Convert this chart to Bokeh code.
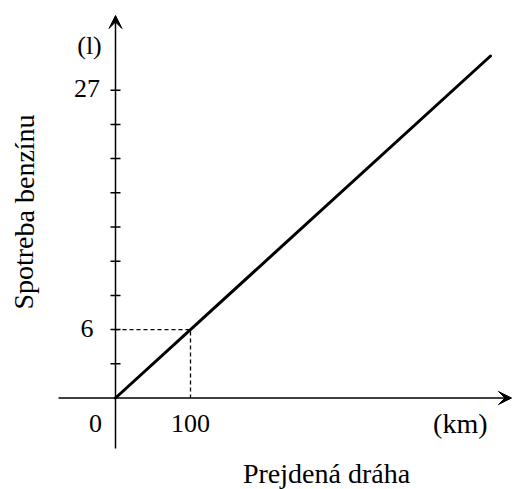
from bokeh.plotting import figure
from bokeh.models import Range1d, Arrow, VeeHead, Label
from bokeh.core.properties import value
from bokeh.embed import file_html
from bokeh.resources import INLINE

# ---- data ----
distance_km = [0, 500]
fuel_l = [0, 30]
ref_km = 100
ref_l = 6
y_ticks = [3, 6, 9, 12, 15, 18, 21, 24, 27]
y_label_vals = [6, 27]
y_label_text = ["6", "27"]
x_label_vals = [100]
x_label_text = ["100"]

FONT_NAME = "Liberation Serif"
FONT = value(FONT_NAME)
W, H = 520, 489
PX_X = 0.75   # px per km
PX_Y = 11.4   # px per litre
OX, OY = 115, 397.5  # origin in canvas px (from top-left)
SHIFT = 10    # baseline correction for svg text

p = figure(width=W, height=H, output_backend="svg", toolbar_location=None,
           x_axis_location=None, y_axis_location=None, min_border=0,
           x_range=Range1d(-OX / PX_X, (W - OX) / PX_X),
           y_range=Range1d(-(H - OY) / PX_Y, OY / PX_Y))
p.outline_line_color = None
p.grid.visible = False
p.background_fill_color = "white"

# axes with arrow heads
p.add_layout(Arrow(end=VeeHead(size=13, fill_color="black", line_color="black"),
                   x_start=(58 - OX) / PX_X, y_start=0, x_end=(511 - OX) / PX_X, y_end=0,
                   line_width=1.5, line_color="black"))
p.add_layout(Arrow(end=VeeHead(size=13, fill_color="black", line_color="black"),
                   x_start=0, y_start=(OY - 448) / PX_Y, x_end=0, y_end=(OY - 15) / PX_Y,
                   line_width=1.5, line_color="black"))

# y ticks
p.scatter(x=[0] * len(y_ticks), y=y_ticks, marker="dash", size=10,
          line_width=1.5, line_color="black")

# dashed reference lines
p.line([0, ref_km, ref_km], [ref_l, ref_l, 0], line_dash="4 3",
       line_width=1.3, line_color="black")

# main line
p.line(distance_km, fuel_l, line_width=3, line_color="black", line_cap="round")

# tick labels
p.text(x=[0] * len(y_label_vals), y=y_label_vals, text=y_label_text,
       x_offset=-28.5, y_offset=8.5 - SHIFT, text_align="center", text_baseline="alphabetic",
       text_font=FONT, text_font_size="26px", text_color="black")
p.text(x=x_label_vals, y=[0] * len(x_label_vals), text=x_label_text,
       x_offset=0, y_offset=35.5 - SHIFT, text_align="center", text_baseline="alphabetic",
       text_font=FONT, text_font_size="26px", text_color="black")
p.text(x=[0], y=[0], text=["0"], x_offset=-20, y_offset=35.5 - SHIFT,
       text_align="center", text_baseline="alphabetic",
       text_font=FONT, text_font_size="26px", text_color="black")

def lab(txt, X, Y, align="center", angle=0, size="27px"):
    p.add_layout(Label(x=X, y=H - Y, x_units="screen", y_units="screen",
                       text=txt, text_align=align, text_baseline="alphabetic",
                       angle=angle, text_font=FONT_NAME, text_font_size=size,
                       text_color="black"))

lab("(l)", 89, 55 - SHIFT, size="26px")
lab("(km)", 487, 433 - SHIFT, align="right", size="28px")
lab("Prejdená dráha", 326, 483 - SHIFT, size="28px")
lab("Spotreba benzínu", 33.5 - SHIFT, 211.5, angle=1.5707963, size="28px")

open("out.html", "w").write(file_html(p, INLINE))
